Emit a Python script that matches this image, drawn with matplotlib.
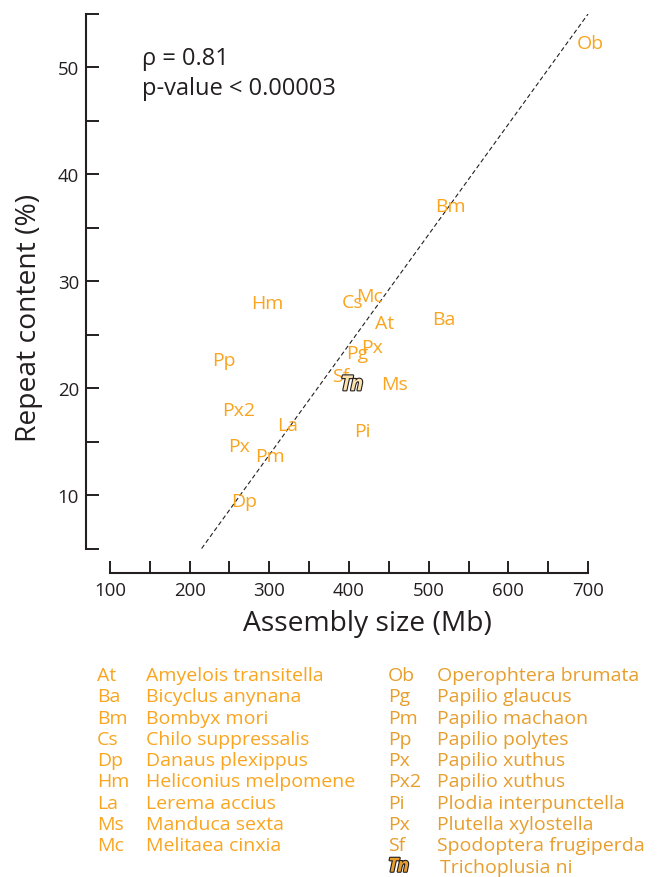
import matplotlib
matplotlib.use("Agg")
import matplotlib.pyplot as plt
import matplotlib.patheffects as pe

plt.rcParams['font.family'] = ['Open Sans', 'DejaVu Sans']

# ---- data (label positions) ----
labels = ["Ob", "Bm", "Hm", "Cs", "Mc", "At", "Ba", "Pp", "Pg", "Px",
          "Sf", "Ms", "Px2", "La", "Pi", "Px", "Pm", "Dp"]
assembly_mb = [702.5, 526.8, 297.1, 404.6, 426.0, 445.2, 519.2, 243.1, 409.7, 428.9,
               389.9, 457.7, 261.5, 323.0, 416.3, 261.9, 300.8, 268.2]
repeat_pct = [51.8, 36.6, 27.5, 27.6, 28.2, 25.6, 26.0, 22.2, 22.8, 23.4,
              20.7, 19.9, 17.5, 16.1, 15.5, 14.1, 13.2, 9.0]
tn_label = "Tn"
tn_point = (403.7, 19.8)

fit_x = [215, 700]
fit_y = [5, 55]

rho_text = "ρ = 0.81"
p_text = "p-value < 0.00003"

xticks_major = [100, 200, 300, 400, 500, 600, 700]
xticks_all = list(range(100, 701, 50))
yticks_major = [10, 20, 30, 40, 50]
yticks_all = list(range(5, 56, 5))

legend_left_abbr = ["At", "Ba", "Bm", "Cs", "Dp", "Hm", "La", "Ms", "Mc"]
legend_left_name = ["Amyelois transitella", "Bicyclus anynana", "Bombyx mori",
                    "Chilo suppressalis", "Danaus plexippus", "Heliconius melpomene",
                    "Lerema accius", "Manduca sexta", "Melitaea cinxia"]
legend_right_abbr = ["Ob", "Pg", "Pm", "Pp", "Px", "Px2", "Pi", "Px", "Sf", "Tn"]
legend_right_name = ["Operophtera brumata", "Papilio glaucus", "Papilio machaon",
                     "Papilio polytes", "Papilio xuthus", "Papilio xuthus",
                     "Plodia interpunctella", "Plutella xylostella",
                     "Spodoptera frugiperda", "Trichoplusia ni"]

# ---- style ----
ORANGE = "#F9A51F"
ORANGE2 = "#E89E2C"
DARK = "#231F20"
W, H = 664, 878
FS_LAB = 14.0

fig = plt.figure(figsize=(W / 100, H / 100), dpi=100)
ax = fig.add_axes([86 / W, (H - 574) / H, (600 - 86) / W, (574 - 15) / H])
ax.set_xlim(69.9, 715.0)
ax.set_ylim(2.71, 54.95)

for s in ["top", "right"]:
    ax.spines[s].set_visible(False)
ax.spines["left"].set_bounds(5, 55)
ax.spines["bottom"].set_bounds(100, 700)
for s in ["left", "bottom"]:
    ax.spines[s].set_linewidth(1.5)
    ax.spines[s].set_color(DARK)

ax.set_xticks(xticks_all)
ax.set_xticklabels([str(v) if v in xticks_major else "" for v in xticks_all])
ax.set_yticks(yticks_all)
ax.set_yticklabels([str(v) if v in yticks_major else "" for v in yticks_all])
ax.tick_params(axis="both", direction="in", width=1.4, color=DARK,
               labelcolor=DARK, labelsize=13.4)
ax.tick_params(axis="y", length=9.4, pad=5)
ax.tick_params(axis="x", length=8.6, pad=6)

ax.plot(fit_x, fit_y, color=DARK, lw=0.8, linestyle=(0, (4, 2.5)))

for lab, x, y in zip(labels, assembly_mb, repeat_pct):
    ax.text(x, y, lab, color=ORANGE, fontsize=FS_LAB, ha="center", va="baseline")

outline = [pe.Stroke(linewidth=1.6, foreground=DARK), pe.Normal()]
ax.text(tn_point[0], tn_point[1], tn_label, color="#FBE3B0", fontsize=15,
        fontstyle="italic", fontweight="bold", ha="center", va="baseline",
        path_effects=outline)

ax.text(140.2, 50.9, rho_text, color=DARK, fontsize=17, ha="left", va="center")
ax.text(140.2, 48.1, p_text, color=DARK, fontsize=17, ha="left", va="center")

ax.set_xlabel("Assembly size (Mb)", fontsize=20.3, color=DARK)
ax.xaxis.label.set_va("center")
ax.xaxis.set_label_coords((367 - 86) / 514, -(624 - 574) / 559)
ax.set_ylabel("Repeat content (%)", fontsize=20.3, color=DARK)
ax.yaxis.label.set_va("center")
ax.yaxis.label.set_ha("center")
ax.yaxis.set_label_coords((29 - 86) / 514, (574 - 318) / 559)

# ---- species legend ----
def fxy(px, py):
    return px / W, 1 - py / H

row0, dy = 681.0, 21.3
for i, (a, n) in enumerate(zip(legend_left_abbr, legend_left_name)):
    y = row0 + i * dy
    fig.text(*fxy(97, y), a, color=ORANGE, fontsize=FS_LAB, va="baseline", ha="left")
    fig.text(*fxy(146, y), n, color=ORANGE, fontsize=FS_LAB, va="baseline", ha="left")

for i, (a, n) in enumerate(zip(legend_right_abbr, legend_right_name)):
    y = row0 + i * dy
    if a == "Tn":
        fig.text(*fxy(388, y), a, color=ORANGE2, fontsize=14, fontstyle="italic",
                 fontweight="bold", va="baseline", ha="left", path_effects=outline)
        fig.text(*fxy(440, y), n, color=ORANGE2, fontsize=FS_LAB, va="baseline", ha="left")
    else:
        fig.text(*fxy(388, y), a, color=ORANGE2, fontsize=FS_LAB, va="baseline", ha="left")
        fig.text(*fxy(437, y), n, color=ORANGE2, fontsize=FS_LAB, va="baseline", ha="left")

fig.savefig("out.png", dpi=100)
